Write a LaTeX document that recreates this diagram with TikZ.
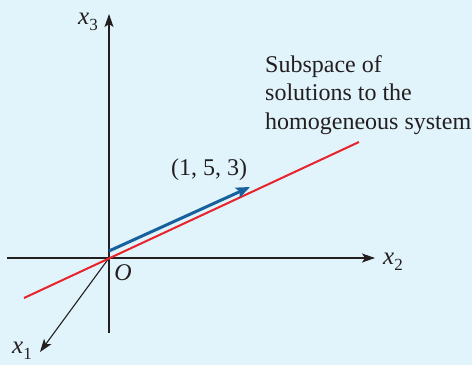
\documentclass[tikz,border=0pt]{standalone}
\usepackage{fontspec}
\setmainfont{Liberation Serif}
\usetikzlibrary{arrows.meta,positioning}
\definecolor{cback}{HTML}{E1F3FB}
\definecolor{caxis}{HTML}{231F20}
\definecolor{cline}{HTML}{E8232B}
\definecolor{cvec}{HTML}{17609E}
\newcommand{\axlab}[1]{{\fontsize{25}{25}\selectfont\textit{x}}\raisebox{-0.5ex}{\fontsize{17}{17}\selectfont #1}}

\begin{document}
\begin{tikzpicture}[
    x=1pt, y=-1pt,
    font=\fontsize{24}{28.5}\selectfont,
    axis/.style={draw=caxis, line width=1.1pt},
    axarr/.style={axis, -{Stealth[length=13pt,width=9pt,inset=3pt]}},
    sub/.style={draw=cline, line width=2pt},
    vec/.style={draw=cvec, line width=3pt, -{Stealth[length=14pt,width=11pt,inset=3pt]}},
    lab/.style={inner sep=0pt, text=caxis}
]
\fill[cback] (0,0) rectangle (472,365);
\useasboundingbox (0,0) rectangle (472,365);
\coordinate (o) at (109,258);
\coordinate (x3top) at (109,14);
\coordinate (x3bot) at (109,333);
\coordinate (x2left) at (7,258);
\coordinate (x2right) at (375,258);
\coordinate (x1tip) at (40,352);
\coordinate (subl) at (24,298);
\coordinate (subr) at (359,142);
\coordinate (vecs) at (109,251);
\coordinate (vece) at (250,187);
% axes
\draw[axarr] (x3bot) -- (x3top);
\draw[axarr] (x2left) -- (x2right);
\draw[axarr] (o) -- (x1tip);
% subspace and vector
\draw[sub] (subl) -- (subr);
\draw[vec] (vecs) -- (vece);
% labels
\node[lab] (x3lab) at (88,22) {\axlab{3}};
\node[lab] (x2lab) at (393,262) {\axlab{2}};
\node[lab] (x1lab) at (22,351) {\axlab{1}};
\node[lab] (olab) at (123,273) {\textit{O}};
\node[lab] (veclab) at (209,170) {(1, 5, 3)};
\node[lab, anchor=north west, align=left] (sublab) at (265,55)
    {Subspace of\\solutions to the\\homogeneous system};
\end{tikzpicture}
\end{document}
